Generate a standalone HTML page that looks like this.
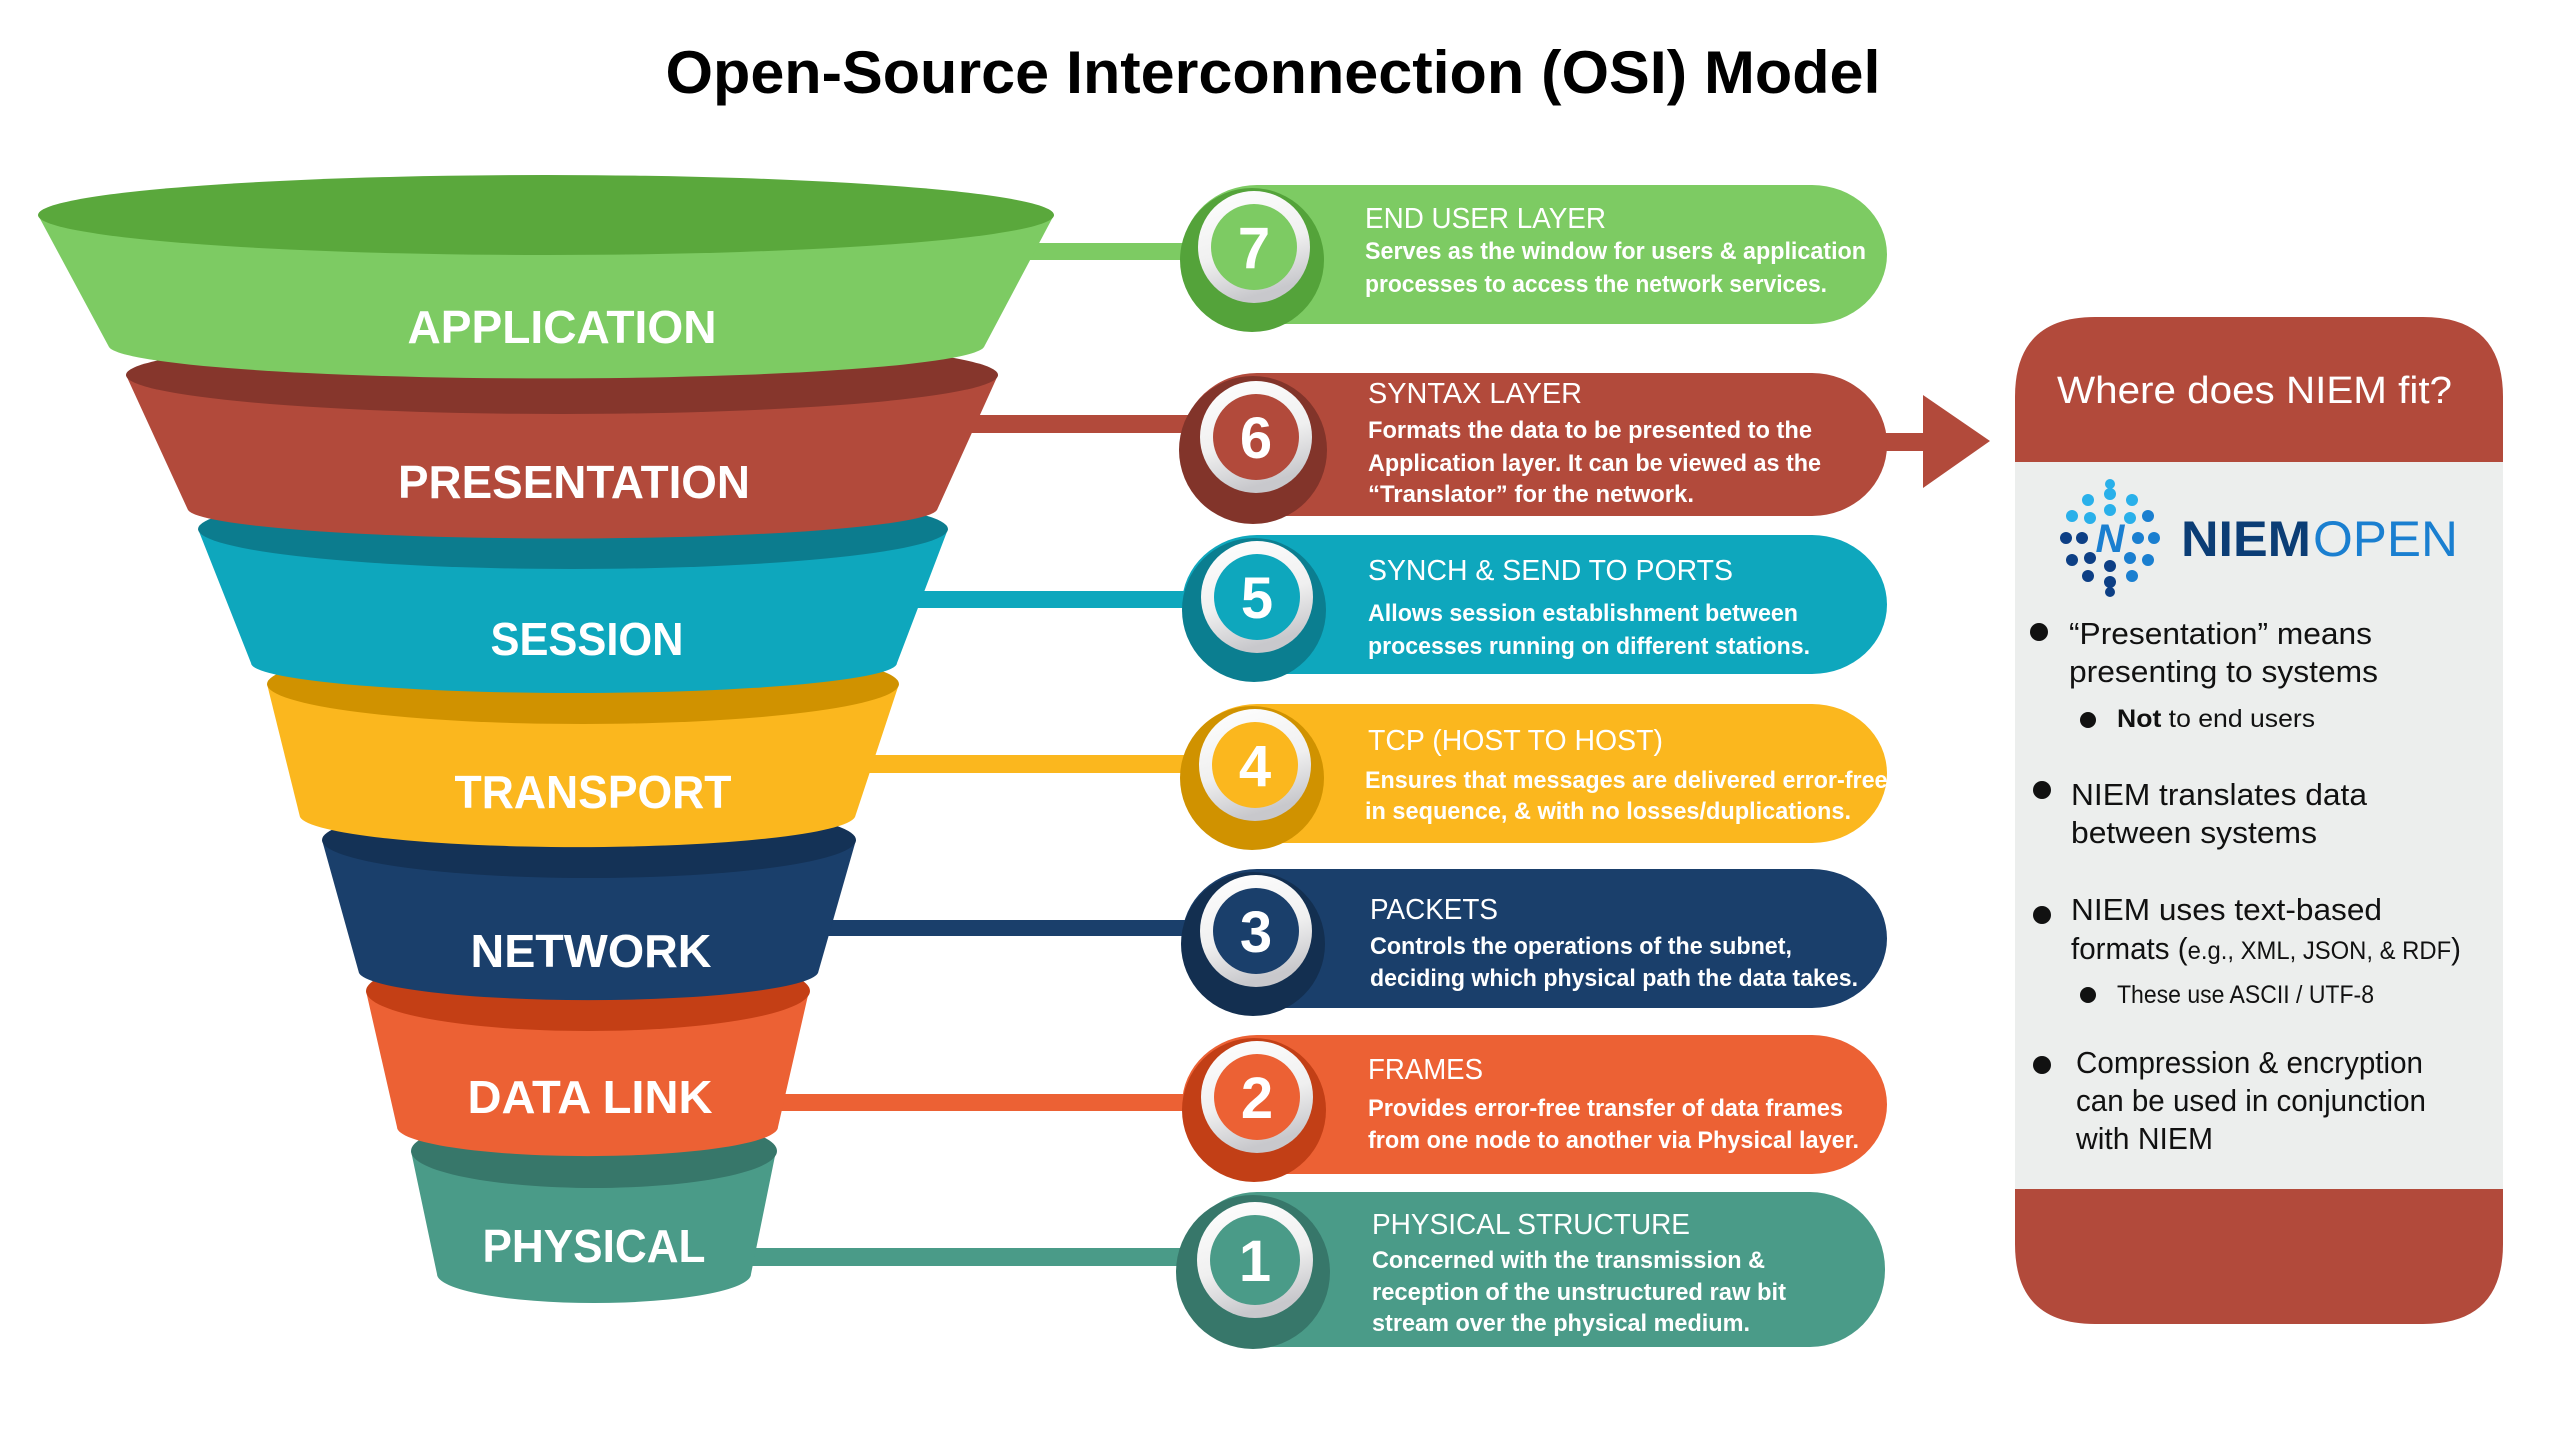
<!DOCTYPE html>
<html><head><meta charset="utf-8"><style>
html,body{margin:0;padding:0;background:#fff;}
svg{display:block;}
text{font-family:"Liberation Sans",sans-serif;}
</style></head><body>
<svg width="2554" height="1440" viewBox="0 0 2554 1440" xmlns="http://www.w3.org/2000/svg">
<defs>
<linearGradient id="ring" x1="0" y1="0" x2="0.3" y2="1">
<stop offset="0" stop-color="#ffffff"/><stop offset="0.6" stop-color="#f0f0f0"/><stop offset="1" stop-color="#c8c8cc"/>
</linearGradient>
</defs>
<text x="1273" y="93" font-size="60" font-weight="bold" text-anchor="middle" textLength="1215" lengthAdjust="spacingAndGlyphs" fill="#000">Open-Source Interconnection (OSI) Model</text>

<rect x="900" y="243" width="320" height="17" fill="#7dcb63"/>
<rect x="900" y="415" width="320" height="18" fill="#b24a3b"/>
<rect x="850" y="591" width="370" height="17" fill="#0ea7bd"/>
<rect x="820" y="755" width="400" height="18" fill="#fbb71e"/>
<rect x="800" y="920" width="420" height="16" fill="#1a3f6b"/>
<rect x="760" y="1094" width="460" height="17" fill="#ec6134"/>
<rect x="740" y="1248" width="480" height="18" fill="#4a9b88"/>

<g>
<path d="M411,1151 L437,1274 A157,29 0 0 0 751,1274 L776,1151 Z" fill="#4a9b88"/>
<ellipse cx="594" cy="1151" rx="183" ry="37" fill="#37776a"/>
<text x="594" y="1262" font-size="46" font-weight="bold" fill="#fff" text-anchor="middle" textLength="223" lengthAdjust="spacingAndGlyphs">PHYSICAL</text>
</g>
<g>
<path d="M366,991 L397,1127 A190,29 0 0 0 778,1127 L809,991 Z" fill="#ec6134"/>
<ellipse cx="588" cy="991" rx="222" ry="40" fill="#c43f15"/>
<text x="590" y="1113" font-size="46" font-weight="bold" fill="#fff" text-anchor="middle" textLength="245" lengthAdjust="spacingAndGlyphs">DATA LINK</text>
</g>
<g>
<path d="M322,840 L359,973 A230,29 0 0 0 818,973 L856,840 Z" fill="#1a3f6b"/>
<ellipse cx="589" cy="840" rx="267" ry="38" fill="#143256"/>
<text x="591" y="967" font-size="46" font-weight="bold" fill="#fff" text-anchor="middle" textLength="241" lengthAdjust="spacingAndGlyphs">NETWORK</text>
</g>
<g>
<path d="M267,684 L300,817 A278,32 0 0 0 855,817 L899,684 Z" fill="#fbb71e"/>
<ellipse cx="583" cy="684" rx="316" ry="40" fill="#d09200"/>
<text x="593" y="808" font-size="46" font-weight="bold" fill="#fff" text-anchor="middle" textLength="277" lengthAdjust="spacingAndGlyphs">TRANSPORT</text>
</g>
<g>
<path d="M198,529 L251,663 A323,30 0 0 0 897,663 L948,529 Z" fill="#0ea7bd"/>
<ellipse cx="573" cy="529" rx="375" ry="40" fill="#0c7c8e"/>
<text x="587" y="655" font-size="46" font-weight="bold" fill="#fff" text-anchor="middle" textLength="193" lengthAdjust="spacingAndGlyphs">SESSION</text>
</g>
<g>
<path d="M126,375 L188,510 A375,30 0 0 0 937,510 L998,375 Z" fill="#b24a3b"/>
<ellipse cx="562" cy="375" rx="436" ry="39" fill="#86362c"/>
<text x="574" y="498" font-size="46" font-weight="bold" fill="#fff" text-anchor="middle" textLength="352" lengthAdjust="spacingAndGlyphs">PRESENTATION</text>
</g>
<g>
<path d="M38,215 L109,347 A438,33 0 0 0 984,347 L1054,215 Z" fill="#7dcb63"/>
<ellipse cx="546" cy="215" rx="508" ry="40" fill="#5aa83c"/>
<text x="562" y="343" font-size="46" font-weight="bold" fill="#fff" text-anchor="middle" textLength="309" lengthAdjust="spacingAndGlyphs">APPLICATION</text>
</g>

<rect x="1880" y="433" width="45" height="18" fill="#b24a3b"/>
<polygon points="1923,395 1990,441 1923,488" fill="#b24a3b"/>

<g>
<rect x="1182" y="185" width="705" height="139" rx="75" ry="70" fill="#7dcb63"/>
<circle cx="1252" cy="260" r="72" fill="#54a33a"/>
<circle cx="1254" cy="247" r="56" fill="url(#ring)"/>
<circle cx="1254" cy="247" r="43" fill="#7dcb63"/>
<text x="1254" y="268" font-size="58" font-weight="bold" fill="#fff" text-anchor="middle">7</text>
<text x="1365" y="228" font-size="29" fill="#fff" textLength="241" lengthAdjust="spacingAndGlyphs">END USER LAYER</text>
<text x="1365" y="259" font-size="24" font-weight="bold" fill="#fff" textLength="501" lengthAdjust="spacingAndGlyphs">Serves as the window for users &amp; application</text>
<text x="1365" y="292" font-size="24" font-weight="bold" fill="#fff" textLength="462" lengthAdjust="spacingAndGlyphs">processes to access the network services.</text>
</g>
<g>
<rect x="1182" y="373" width="705" height="143" rx="75" ry="71" fill="#b24a3b"/>
<circle cx="1253" cy="450" r="74" fill="#82342a"/>
<circle cx="1256" cy="437" r="56" fill="url(#ring)"/>
<circle cx="1256" cy="437" r="43" fill="#b24a3b"/>
<text x="1256" y="458" font-size="58" font-weight="bold" fill="#fff" text-anchor="middle">6</text>
<text x="1368" y="403" font-size="29" fill="#fff" textLength="214" lengthAdjust="spacingAndGlyphs">SYNTAX LAYER</text>
<text x="1368" y="438" font-size="24" font-weight="bold" fill="#fff" textLength="444" lengthAdjust="spacingAndGlyphs">Formats the data to be presented to the</text>
<text x="1368" y="471" font-size="24" font-weight="bold" fill="#fff" textLength="453" lengthAdjust="spacingAndGlyphs">Application layer. It can be viewed as the</text>
<text x="1368" y="502" font-size="24" font-weight="bold" fill="#fff" textLength="326" lengthAdjust="spacingAndGlyphs">“Translator” for the network.</text>
</g>
<g>
<rect x="1182" y="535" width="705" height="139" rx="75" ry="70" fill="#0ea7bd"/>
<circle cx="1254" cy="610" r="72" fill="#0b7e90"/>
<circle cx="1257" cy="597" r="56" fill="url(#ring)"/>
<circle cx="1257" cy="597" r="43" fill="#0ea7bd"/>
<text x="1257" y="618" font-size="58" font-weight="bold" fill="#fff" text-anchor="middle">5</text>
<text x="1368" y="580" font-size="29" fill="#fff" textLength="365" lengthAdjust="spacingAndGlyphs">SYNCH &amp; SEND TO PORTS</text>
<text x="1368" y="621" font-size="24" font-weight="bold" fill="#fff" textLength="430" lengthAdjust="spacingAndGlyphs">Allows session establishment between</text>
<text x="1368" y="654" font-size="24" font-weight="bold" fill="#fff" textLength="442" lengthAdjust="spacingAndGlyphs">processes running on different stations.</text>
</g>
<g>
<rect x="1182" y="704" width="705" height="139" rx="75" ry="70" fill="#fbb71e"/>
<circle cx="1252" cy="778" r="72" fill="#d09200"/>
<circle cx="1255" cy="765" r="56" fill="url(#ring)"/>
<circle cx="1255" cy="765" r="43" fill="#fbb71e"/>
<text x="1255" y="786" font-size="58" font-weight="bold" fill="#fff" text-anchor="middle">4</text>
<text x="1368" y="750" font-size="29" fill="#fff" textLength="295" lengthAdjust="spacingAndGlyphs">TCP (HOST TO HOST)</text>
<text x="1365" y="788" font-size="24" font-weight="bold" fill="#fff" textLength="529" lengthAdjust="spacingAndGlyphs">Ensures that messages are delivered error-free,</text>
<text x="1365" y="819" font-size="24" font-weight="bold" fill="#fff" textLength="486" lengthAdjust="spacingAndGlyphs">in sequence, &amp; with no losses/duplications.</text>
</g>
<g>
<rect x="1182" y="869" width="705" height="139" rx="75" ry="70" fill="#1a3f6b"/>
<circle cx="1253" cy="944" r="72" fill="#132f50"/>
<circle cx="1256" cy="931" r="56" fill="url(#ring)"/>
<circle cx="1256" cy="931" r="43" fill="#1a3f6b"/>
<text x="1256" y="952" font-size="58" font-weight="bold" fill="#fff" text-anchor="middle">3</text>
<text x="1370" y="919" font-size="29" fill="#fff" textLength="128" lengthAdjust="spacingAndGlyphs">PACKETS</text>
<text x="1370" y="954" font-size="24" font-weight="bold" fill="#fff" textLength="422" lengthAdjust="spacingAndGlyphs">Controls the operations of the subnet,</text>
<text x="1370" y="986" font-size="24" font-weight="bold" fill="#fff" textLength="488" lengthAdjust="spacingAndGlyphs">deciding which physical path the data takes.</text>
</g>
<g>
<rect x="1182" y="1035" width="705" height="139" rx="75" ry="70" fill="#ec6134"/>
<circle cx="1254" cy="1110" r="72" fill="#c23f16"/>
<circle cx="1257" cy="1097" r="56" fill="url(#ring)"/>
<circle cx="1257" cy="1097" r="43" fill="#ec6134"/>
<text x="1257" y="1118" font-size="58" font-weight="bold" fill="#fff" text-anchor="middle">2</text>
<text x="1368" y="1079" font-size="29" fill="#fff" textLength="115" lengthAdjust="spacingAndGlyphs">FRAMES</text>
<text x="1368" y="1116" font-size="24" font-weight="bold" fill="#fff" textLength="475" lengthAdjust="spacingAndGlyphs">Provides error-free transfer of data frames</text>
<text x="1368" y="1148" font-size="24" font-weight="bold" fill="#fff" textLength="491" lengthAdjust="spacingAndGlyphs">from one node to another via Physical layer.</text>
</g>
<g>
<rect x="1182" y="1192" width="703" height="155" rx="75" ry="77" fill="#4a9b88"/>
<circle cx="1253" cy="1272" r="77" fill="#37776a"/>
<circle cx="1255" cy="1260" r="58" fill="url(#ring)"/>
<circle cx="1255" cy="1260" r="45" fill="#4a9b88"/>
<text x="1255" y="1281" font-size="58" font-weight="bold" fill="#fff" text-anchor="middle">1</text>
<text x="1372" y="1234" font-size="29" fill="#fff" textLength="318" lengthAdjust="spacingAndGlyphs">PHYSICAL STRUCTURE</text>
<text x="1372" y="1268" font-size="24" font-weight="bold" fill="#fff" textLength="393" lengthAdjust="spacingAndGlyphs">Concerned with the transmission &amp;</text>
<text x="1372" y="1300" font-size="24" font-weight="bold" fill="#fff" textLength="414" lengthAdjust="spacingAndGlyphs">reception of the unstructured raw bit</text>
<text x="1372" y="1331" font-size="24" font-weight="bold" fill="#fff" textLength="378" lengthAdjust="spacingAndGlyphs">stream over the physical medium.</text>
</g>

<path d="M2015,1189 L2015,1244 Q2015,1324 2095,1324 L2423,1324 Q2503,1324 2503,1244 L2503,1189 Z" fill="#b24a3b"/>
<path d="M2015,462 L2503,462 L2503,1189 L2015,1189 Z" fill="#eceeed"/>
<path d="M2015,462 L2015,397 Q2015,317 2095,317 L2423,317 Q2503,317 2503,397 L2503,462 Z" fill="#b24a3b"/>
<text x="2057" y="403" font-size="38" fill="#fff" textLength="395" lengthAdjust="spacingAndGlyphs">Where does NIEM fit?</text>

<g>
<circle cx="2154" cy="538" r="6" fill="#1a7fd0"/><circle cx="2148" cy="560" r="6" fill="#1a7fd0"/><circle cx="2132" cy="576" r="6" fill="#1a7fd0"/>
<circle cx="2110" cy="582" r="6" fill="#0d3f85"/><circle cx="2088" cy="576" r="6" fill="#0d3f85"/><circle cx="2072" cy="560" r="6" fill="#0d3f85"/>
<circle cx="2066" cy="538" r="6" fill="#0d3f85"/><circle cx="2072" cy="516" r="6" fill="#29b0ea"/><circle cx="2088" cy="500" r="6" fill="#29b0ea"/>
<circle cx="2110" cy="494" r="6" fill="#29b0ea"/><circle cx="2132" cy="500" r="6" fill="#29b0ea"/><circle cx="2148" cy="516" r="6" fill="#1a7fd0"/>
<circle cx="2138" cy="538" r="6" fill="#1a7fd0"/><circle cx="2130" cy="558" r="6" fill="#1a7fd0"/><circle cx="2110" cy="566" r="6" fill="#0d3f85"/>
<circle cx="2090" cy="558" r="6" fill="#0d3f85"/><circle cx="2082" cy="538" r="6" fill="#0d3f85"/><circle cx="2090" cy="518" r="6" fill="#29b0ea"/>
<circle cx="2110" cy="510" r="6" fill="#29b0ea"/><circle cx="2130" cy="518" r="6" fill="#29b0ea"/>
<circle cx="2110" cy="484" r="5" fill="#29b0ea"/><circle cx="2110" cy="592" r="5" fill="#0d3f85"/>
<text x="2110" y="552" font-size="40" font-weight="bold" font-style="italic" fill="#1a7fd0" text-anchor="middle">N</text>
</g>
<text x="2181" y="556" font-size="50" font-weight="bold" fill="#0b3d75" textLength="130" lengthAdjust="spacingAndGlyphs">NIEM</text>
<text x="2313" y="556" font-size="50" fill="#1a7fd0" textLength="145" lengthAdjust="spacingAndGlyphs">OPEN</text>

<g fill="#111">
<circle cx="2039" cy="632" r="9"/>
<text x="2069" y="644" font-size="31" textLength="303" lengthAdjust="spacingAndGlyphs">“Presentation” means</text>
<text x="2069" y="682" font-size="31" textLength="309" lengthAdjust="spacingAndGlyphs">presenting to systems</text>
<circle cx="2088" cy="720" r="8"/>
<text x="2117" y="727" font-size="25" textLength="198" lengthAdjust="spacingAndGlyphs"><tspan font-weight="bold">Not</tspan> to end users</text>
<circle cx="2042" cy="790" r="9"/>
<text x="2071" y="805" font-size="31" textLength="296" lengthAdjust="spacingAndGlyphs">NIEM translates data</text>
<text x="2071" y="843" font-size="31" textLength="246" lengthAdjust="spacingAndGlyphs">between systems</text>
<circle cx="2042" cy="915" r="9"/>
<text x="2071" y="920" font-size="31" textLength="311" lengthAdjust="spacingAndGlyphs">NIEM uses text-based</text>
<text x="2071" y="959" font-size="31" textLength="390" lengthAdjust="spacingAndGlyphs">formats (<tspan font-size="25">e.g., XML, JSON, &amp; RDF</tspan>)</text>
<circle cx="2088" cy="995" r="8"/>
<text x="2117" y="1003" font-size="25" textLength="257" lengthAdjust="spacingAndGlyphs">These use ASCII / UTF-8</text>
<circle cx="2042" cy="1065" r="9"/>
<text x="2076" y="1073" font-size="31" textLength="347" lengthAdjust="spacingAndGlyphs">Compression &amp; encryption</text>
<text x="2076" y="1111" font-size="31" textLength="350" lengthAdjust="spacingAndGlyphs">can be used in conjunction</text>
<text x="2076" y="1149" font-size="31" textLength="137" lengthAdjust="spacingAndGlyphs">with NIEM</text>
</g>
</svg>
</body></html>
